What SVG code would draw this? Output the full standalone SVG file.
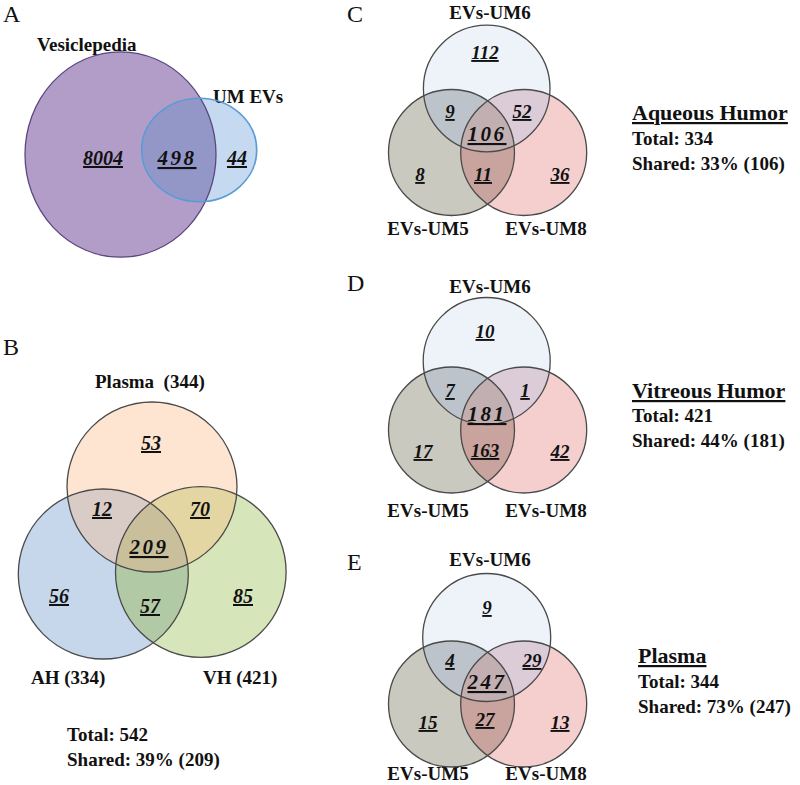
<svg xmlns="http://www.w3.org/2000/svg" width="800" height="785" viewBox="0 0 800 785">
<style>
.t{font-family:"Liberation Serif","Times New Roman",serif;fill:#111}
.pl{font-size:24px}
.lb{font-weight:bold;font-size:19px}
.ttl{font-weight:bold;font-size:22px;text-decoration:underline;text-decoration-thickness:2px}
.n{font-weight:bold;font-style:italic;font-size:19px;text-anchor:middle;text-decoration:underline;text-decoration-thickness:2px}
.nb{font-size:20px}
.c{font-size:21px;letter-spacing:2.5px;text-decoration-thickness:3px}
.mid{text-anchor:middle}
.o{fill:none;stroke:#4a4a4a;stroke-width:1.3}
.top{fill:#eef3fa}.left{fill:#c9c9bf}.right{fill:#f4cfcd}
.tl{fill:#bcc3cb}.tr{fill:#dcccd8}.lr{fill:#c9a39e}.ctr{fill:#c2afb1}
</style>
<defs>
<clipPath id="kA1"><ellipse cx="120.5" cy="154.5" rx="95.5" ry="102.7"/></clipPath>
<clipPath id="kBP"><circle cx="152" cy="487" r="85"/></clipPath>
<clipPath id="kBA"><circle cx="103.3" cy="574" r="85"/></clipPath>
<clipPath id="kBV"><circle cx="200.8" cy="572" r="85.3"/></clipPath>
<clipPath id="kCT"><circle cx="486.7" cy="88.5" r="63.3"/></clipPath>
<clipPath id="kCL"><circle cx="451.5" cy="152.5" r="63"/></clipPath>
<clipPath id="kCR"><circle cx="523.7" cy="152.5" r="63"/></clipPath>
<clipPath id="kDT"><circle cx="486.7" cy="361" r="63.5"/></clipPath>
<clipPath id="kDL"><circle cx="451.5" cy="430" r="63"/></clipPath>
<clipPath id="kDR"><circle cx="523.7" cy="430" r="63"/></clipPath>
<clipPath id="kET"><circle cx="486.7" cy="637.5" r="64"/></clipPath>
<clipPath id="kEL"><circle cx="451.5" cy="704" r="63"/></clipPath>
<clipPath id="kER"><circle cx="523.7" cy="704" r="63"/></clipPath>
</defs>
<rect width="800" height="785" fill="#ffffff"/>

<!-- Panel A -->
<g id="panelA">
  <text class="t pl" x="3" y="22">A</text>
  <g id="A-vesiclepedia">
    <ellipse cx="120.5" cy="154.5" rx="95.5" ry="102.7" fill="#b19dc7"/>
    <text class="t lb" x="37" y="51">Vesiclepedia</text>
  </g>
  <g id="A-umevs">
    <ellipse cx="199.2" cy="150" rx="57.5" ry="51.7" fill="#c5d9f0"/>
    <ellipse cx="199.2" cy="150" rx="57.5" ry="51.7" fill="#9397c8" clip-path="url(#kA1)"/>
    <text class="t lb" x="213" y="103">UM EVs</text>
  </g>
  <ellipse cx="120.5" cy="154.5" rx="95.5" ry="102.7" fill="none" stroke="#5a4880" stroke-width="1.3"/>
  <ellipse cx="199.2" cy="150" rx="57.5" ry="51.7" fill="none" stroke="#5b9bd5" stroke-width="1.6"/>
  <text class="t n nb" x="103" y="165">8004</text>
  <text class="t n nb c" x="177" y="165">498</text>
  <text class="t n nb" x="237" y="165">44</text>
</g>

<!-- Panel B -->
<g id="panelB">
  <text class="t pl" x="3" y="355">B</text>
  <g id="B-plasma">
    <circle cx="152" cy="487" r="85" fill="#fde5d2"/>
    <text class="t lb" x="95" y="388" xml:space="preserve">Plasma  (344)</text>
  </g>
  <g id="B-ah">
    <circle cx="103.3" cy="574" r="85" fill="#c6d6eb"/>
    <circle cx="103.3" cy="574" r="85" fill="#d9ccc7" clip-path="url(#kBP)"/>
    <text class="t lb" x="31" y="684">AH (334)</text>
  </g>
  <g id="B-vh">
    <circle cx="200.8" cy="572" r="85.3" fill="#d7e5bb"/>
    <circle cx="200.8" cy="572" r="85.3" fill="#e3d6a3" clip-path="url(#kBP)"/>
    <circle cx="200.8" cy="572" r="85.3" fill="#b2c9a6" clip-path="url(#kBA)"/>
    <g clip-path="url(#kBA)"><circle cx="200.8" cy="572" r="85.3" fill="#c9bf9b" clip-path="url(#kBP)"/></g>
    <text class="t lb" x="203" y="684">VH (421)</text>
  </g>
  <circle class="o" cx="152" cy="487" r="85" stroke="#333"/>
  <circle class="o" cx="103.3" cy="574" r="85" stroke="#333"/>
  <circle class="o" cx="200.8" cy="572" r="85.3" stroke="#333"/>
  <text class="t n nb" x="151" y="450">53</text>
  <text class="t n nb" x="102" y="516">12</text>
  <text class="t n nb" x="200" y="516">70</text>
  <text class="t n nb c" x="149" y="554">209</text>
  <text class="t n nb" x="59" y="603">56</text>
  <text class="t n nb" x="150" y="613">57</text>
  <text class="t n nb" x="243" y="603">85</text>
  <text class="t lb" x="67" y="741">Total: 542</text>
  <text class="t lb" x="67" y="766">Shared: 39% (209)</text>
</g>

<!-- Panel C -->
<g id="panelC">
  <text class="t pl" x="347" y="22">C</text>
  <g id="C-um6">
    <circle class="top" cx="486.7" cy="88.5" r="63.3"/>
    <text class="t lb mid" x="490" y="19">EVs-UM6</text>
  </g>
  <g id="C-um5">
    <circle class="left" cx="451.5" cy="152.5" r="63"/>
    <circle class="tl" cx="451.5" cy="152.5" r="63" clip-path="url(#kCT)"/>
    <text class="t lb mid" x="428" y="235">EVs-UM5</text>
  </g>
  <g id="C-um8">
    <circle class="right" cx="523.7" cy="152.5" r="63"/>
    <circle class="tr" cx="523.7" cy="152.5" r="63" clip-path="url(#kCT)"/>
    <circle class="lr" cx="523.7" cy="152.5" r="63" clip-path="url(#kCL)"/>
    <g clip-path="url(#kCL)"><circle class="ctr" cx="523.7" cy="152.5" r="63" clip-path="url(#kCT)"/></g>
    <text class="t lb mid" x="546" y="235">EVs-UM8</text>
  </g>
  <circle class="o" cx="486.7" cy="88.5" r="63.3"/>
  <circle class="o" cx="451.5" cy="152.5" r="63"/>
  <circle class="o" cx="523.7" cy="152.5" r="63"/>
  <text class="t n" x="485" y="59">112</text>
  <text class="t n" x="450" y="118">9</text>
  <text class="t n" x="522" y="118">52</text>
  <text class="t n c" x="487" y="141">106</text>
  <text class="t n" x="420" y="181">8</text>
  <text class="t n" x="483" y="181">11</text>
  <text class="t n" x="560" y="181">36</text>
  <text class="t ttl" x="632" y="120">Aqueous Humor</text>
  <text class="t lb" x="632" y="145">Total: 334</text>
  <text class="t lb" x="632" y="170">Shared: 33% (106)</text>
</g>

<!-- Panel D -->
<g id="panelD">
  <text class="t pl" x="347" y="291">D</text>
  <g id="D-um6">
    <circle class="top" cx="486.7" cy="361" r="63.5"/>
    <text class="t lb mid" x="490" y="293">EVs-UM6</text>
  </g>
  <g id="D-um5">
    <circle class="left" cx="451.5" cy="430" r="63"/>
    <circle class="tl" cx="451.5" cy="430" r="63" clip-path="url(#kDT)"/>
    <text class="t lb mid" x="428" y="517">EVs-UM5</text>
  </g>
  <g id="D-um8">
    <circle class="right" cx="523.7" cy="430" r="63"/>
    <circle class="tr" cx="523.7" cy="430" r="63" clip-path="url(#kDT)"/>
    <circle class="lr" cx="523.7" cy="430" r="63" clip-path="url(#kDL)"/>
    <g clip-path="url(#kDL)"><circle class="ctr" cx="523.7" cy="430" r="63" clip-path="url(#kDT)"/></g>
    <text class="t lb mid" x="546" y="517">EVs-UM8</text>
  </g>
  <circle class="o" cx="486.7" cy="361" r="63.5"/>
  <circle class="o" cx="451.5" cy="430" r="63"/>
  <circle class="o" cx="523.7" cy="430" r="63"/>
  <text class="t n" x="485" y="338">10</text>
  <text class="t n" x="450" y="397">7</text>
  <text class="t n" x="525" y="397">1</text>
  <text class="t n c" x="487" y="421">181</text>
  <text class="t n" x="423" y="458">17</text>
  <text class="t n" x="485" y="457">163</text>
  <text class="t n" x="560" y="458">42</text>
  <text class="t ttl" x="632" y="398">Vitreous Humor</text>
  <text class="t lb" x="632" y="422">Total: 421</text>
  <text class="t lb" x="632" y="447">Shared: 44% (181)</text>
</g>

<!-- Panel E -->
<g id="panelE">
  <text class="t pl" x="347" y="570">E</text>
  <g id="E-um6">
    <circle class="top" cx="486.7" cy="637.5" r="64"/>
    <text class="t lb mid" x="490" y="566">EVs-UM6</text>
  </g>
  <g id="E-um5">
    <circle class="left" cx="451.5" cy="704" r="63"/>
    <circle class="tl" cx="451.5" cy="704" r="63" clip-path="url(#kET)"/>
    <text class="t lb mid" x="428" y="780">EVs-UM5</text>
  </g>
  <g id="E-um8">
    <circle class="right" cx="523.7" cy="704" r="63"/>
    <circle class="tr" cx="523.7" cy="704" r="63" clip-path="url(#kET)"/>
    <circle class="lr" cx="523.7" cy="704" r="63" clip-path="url(#kEL)"/>
    <g clip-path="url(#kEL)"><circle class="ctr" cx="523.7" cy="704" r="63" clip-path="url(#kET)"/></g>
    <text class="t lb mid" x="546" y="780">EVs-UM8</text>
  </g>
  <circle class="o" cx="486.7" cy="637.5" r="64"/>
  <circle class="o" cx="451.5" cy="704" r="63"/>
  <circle class="o" cx="523.7" cy="704" r="63"/>
  <text class="t n" x="487" y="614">9</text>
  <text class="t n" x="450" y="667">4</text>
  <text class="t n" x="532" y="667">29</text>
  <text class="t n c" x="487" y="689">247</text>
  <text class="t n" x="428" y="729">15</text>
  <text class="t n" x="485" y="726">27</text>
  <text class="t n" x="560" y="729">13</text>
  <text class="t ttl" x="638" y="663">Plasma</text>
  <text class="t lb" x="638" y="688">Total: 344</text>
  <text class="t lb" x="638" y="713">Shared: 73% (247)</text>
</g>
</svg>
